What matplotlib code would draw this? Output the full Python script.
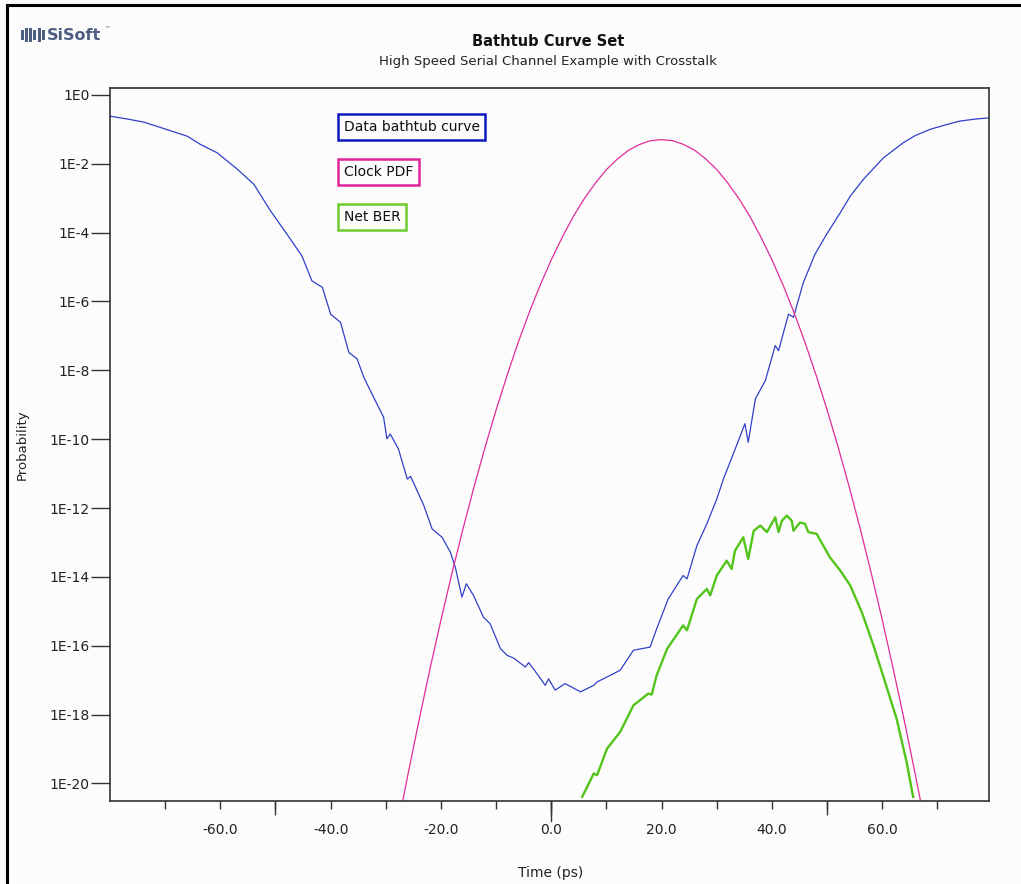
import numpy as np
import matplotlib
matplotlib.use("Agg")
import matplotlib.pyplot as plt
from matplotlib.lines import Line2D
from matplotlib.patches import Rectangle

# data bathtub curve: time (ps) and log10 of probability
bathtub_t = [-79.9, -76.9, -73.9, -70.2, -66.0, -63.6, -60.6, -56.9, -53.9, -50.9,
             -47.9, -45.2, -43.4, -41.5, -40.0, -38.2, -36.7, -35.2, -34.0, -31.6,
             -30.4, -29.8, -29.2, -27.7, -26.1, -25.5, -23.1, -21.6, -19.8, -18.3,
             -17.4, -16.2, -15.4, -14.1, -12.3, -11.1, -9.2, -8.0, -6.8, -4.7,
             -4.1, -2.6, -1.1, -0.5, 0.7, 2.5, 5.3, 7.7, 8.3, 10.7,
             12.5, 14.9, 17.9, 19.1, 21.2, 23.9, 24.6, 26.4, 28.2, 30.0,
             31.2, 33.6, 35.1, 35.7, 37.0, 38.8, 40.6, 41.2, 43.0, 43.9,
             45.7, 47.8, 49.9, 52.4, 54.2, 56.6, 60.2, 63.8, 66.0, 68.7,
             71.5, 74.1, 77.0, 79.2]
bathtub_log = [-0.62, -0.70, -0.79, -0.98, -1.20, -1.44, -1.68, -2.16, -2.60, -3.37,
               -4.05, -4.68, -5.40, -5.59, -6.37, -6.61, -7.48, -7.67, -8.20, -8.98,
               -9.36, -9.99, -9.85, -10.29, -11.16, -11.08, -11.93, -12.61, -12.85, -13.28,
               -13.72, -14.59, -14.20, -14.54, -15.17, -15.36, -16.09, -16.28, -16.36, -16.62,
               -16.49, -16.81, -17.15, -16.96, -17.29, -17.10, -17.34, -17.15, -17.05, -16.86,
               -16.71, -16.13, -16.04, -15.51, -14.64, -13.96, -14.06, -13.09, -12.46, -11.74,
               -11.16, -10.18, -9.55, -10.09, -8.83, -8.30, -7.28, -7.43, -6.37, -6.46,
               -5.45, -4.63, -4.05, -3.42, -2.94, -2.45, -1.83, -1.39, -1.18, -1.00,
               -0.87, -0.76, -0.70, -0.67]

# clock PDF
clock_t = [-27, -26, -24, -22, -20, -18, -16, -14, -12, -10, -8, -6, -4, -2,
           0, 2, 4, 6, 8, 10, 12, 14, 16, 18, 20, 22, 24, 26, 28, 30,
           32, 34, 36, 38, 40, 42, 44, 46, 48, 50, 52, 54, 56, 58, 60,
           62, 64, 66, 67]
clock_log = [-20.56, -19.75, -18.18, -16.68, -15.25, -13.89, -12.60, -11.38, -10.23, -9.15,
             -8.14, -7.19, -6.32, -5.52, -4.79, -4.13, -3.53, -3.01, -2.56, -2.17,
             -1.86, -1.61, -1.44, -1.33, -1.30, -1.33, -1.44, -1.61, -1.86, -2.17,
             -2.56, -3.01, -3.53, -4.13, -4.79, -5.52, -6.32, -7.19, -8.14, -9.15,
             -10.23, -11.38, -12.60, -13.89, -15.25, -16.68, -18.18, -19.75, -20.56]

# net BER
ber_t = [5.6, 7.7, 8.3, 10.1, 12.5, 14.9, 17.6, 18.2, 19.1, 21.0,
         23.9, 24.6, 26.4, 28.2, 28.8, 30.0, 31.8, 32.7, 33.3, 34.8,
         35.7, 36.7, 37.9, 39.1, 40.6, 41.2, 41.8, 42.7, 43.6, 43.9,
         45.1, 46.0, 46.6, 48.1, 50.5, 52.4, 54.2, 56.3, 58.4, 60.5,
         62.6, 64.4, 65.6]
ber_log = [-20.39, -19.71, -19.76, -18.99, -18.50, -17.73, -17.39, -17.42, -16.86, -16.09,
           -15.41, -15.55, -14.64, -14.35, -14.54, -13.96, -13.53, -13.77, -13.24, -12.85,
           -13.48, -12.66, -12.51, -12.70, -12.27, -12.70, -12.37, -12.22, -12.37, -12.66,
           -12.42, -12.46, -12.70, -12.75, -13.43, -13.82, -14.25, -15.03, -15.99, -17.05,
           -18.12, -19.37, -20.39]

legend_names = ["Data bathtub curve", "Clock PDF", "Net BER"]
line_colors = ["#3040c8", "#e02c9a", "#52c41a"]
box_colors = ["#1018c0", "#e0249a", "#6ccc2c"]

W, H = 1021, 884
fig = plt.figure(figsize=(W / 100, H / 100), dpi=100, facecolor="#fcfcfc")

def fx(px):
    return px / W

def fy(py):
    return 1 - py / H

ax = fig.add_axes([fx(110), fy(801), fx(989) - fx(110), fy(88) - fy(801)])
ax.set_facecolor("#fcfcfc")

ax.semilogy(bathtub_t, 10.0 ** np.array(bathtub_log), color=line_colors[0], lw=0.9)
ax.semilogy(clock_t, 10.0 ** np.array(clock_log), color=line_colors[1], lw=0.9)
ax.semilogy(ber_t, 10.0 ** np.array(ber_log), color=line_colors[2], lw=1.7)

ax.set_xlim(-80, 79.35)
ax.set_ylim(10 ** -20.51, 10 ** 0.2)

for s in ax.spines.values():
    s.set_color("#333333")
    s.set_linewidth(1.2)

# y axis: every second decade
yt = [10.0 ** -k for k in range(0, 21, 2)]
ax.set_yticks(yt)
ax.set_yticklabels(["1E0"] + ["1E-%d" % k for k in range(2, 21, 2)])
ax.yaxis.set_minor_locator(matplotlib.ticker.NullLocator())
ax.tick_params(axis="y", which="major", length=13.5, width=1.0, color="#333333",
               pad=1, labelsize=10, labelcolor="#222222")

# x axis: short ticks every 10, labels every 20, long ticks at -50/0/50
xt = list(range(-70, 80, 10))
ax.set_xticks(xt)
ax.set_xticklabels(["%.1f" % v if v % 20 == 0 else "" for v in xt])
ax.set_xticks([-50, 0, 50], minor=True)
ax.xaxis.remove_overlapping_locs = False
ax.tick_params(axis="x", which="major", length=6, width=1.0, color="#333333",
               pad=10, labelsize=10, labelcolor="#222222")
ax.tick_params(axis="x", which="minor", length=10, width=1.0, color="#333333")
ax.plot([0, 0], [0, -20 / 713], transform=ax.get_xaxis_transform(),
        color="#333333", lw=1.0, clip_on=False)

fig.text(fx(22), fy(445), "Probability", rotation=90, ha="center", va="center",
         fontsize=9.5, color="#222222")
fig.text(fx(551), fy(873), "Time (ps)", ha="center", va="center",
         fontsize=10, color="#222222")

# titles
fig.text(fx(548), fy(41), "Bathtub Curve Set", ha="center", va="center",
         fontsize=10.5, fontweight="bold", color="#111111")
fig.text(fx(548), fy(62), "High Speed Serial Channel Example with Crosstalk",
         ha="center", va="center", fontsize=9.5, color="#222222")

# legend boxes
for name, c, yc in zip(legend_names, box_colors, [127, 171.7, 217]):
    fig.text(fx(343.5), fy(yc), name, ha="left", va="center", fontsize=10,
             color="#111111",
             bbox=dict(boxstyle="square,pad=0.42", fc="#fcfcfc", ec=c, lw=1.8))

# company logo
logo_c = "#4d5f80"
for dx, h in [(0, 10), (4, 14), (8, 14), (12, 10), (17, 14), (21, 10)]:
    fig.add_artist(Rectangle((fx(21 + dx), fy(35 + h / 2)), fx(2.5), h / H,
                             fc=logo_c, ec="none"))
fig.text(fx(47), fy(36), "SiSoft", ha="left", va="center", fontsize=11.5,
         fontweight="bold", color=logo_c)
fig.text(fx(104), fy(30), "\u2122", ha="left", va="center", fontsize=4, color=logo_c)

# outer frame
fig.add_artist(Line2D([fx(7), fx(7)], [fy(5), 0], color="black", lw=2.2))
fig.add_artist(Line2D([fx(7), 1], [fy(5), fy(5)], color="black", lw=2.2))

fig.savefig("out.png", dpi=100, facecolor=fig.get_facecolor())
